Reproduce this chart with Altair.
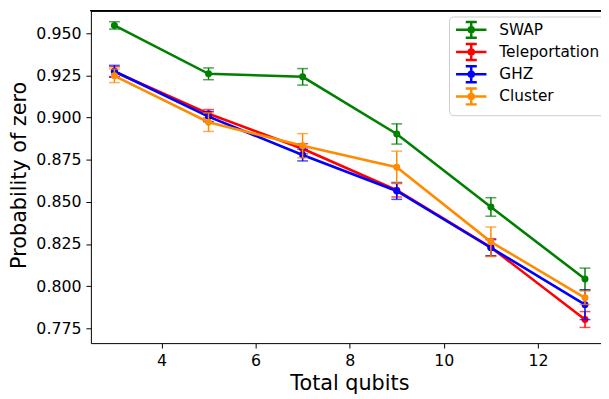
import altair as alt
import pandas as pd

qubits = [3, 5, 7, 9, 11, 13]
series_names = ["SWAP", "Teleportation", "GHZ", "Cluster"]
series_colors = ["#008000", "#ff0000", "#0000ff", "#ff8c00"]

swap_vals = [0.9547, 0.9260, 0.9242, 0.8903, 0.8470, 0.8042]
swap_errs = [0.0022, 0.0035, 0.0049, 0.0060, 0.0055, 0.0065]
tele_vals = [0.9272, 0.9023, 0.8815, 0.8569, 0.8230, 0.7802]
tele_errs = [0.0030, 0.0025, 0.0030, 0.0040, 0.0052, 0.0047]
ghz_vals = [0.9275, 0.9006, 0.8778, 0.8565, 0.8228, 0.7890]
ghz_errs = [0.0035, 0.0030, 0.0035, 0.0050, 0.0048, 0.0088]
cluster_vals = [0.9248, 0.8973, 0.8833, 0.8706, 0.8263, 0.7931]
cluster_errs = [0.0040, 0.0055, 0.0072, 0.0095, 0.0088, 0.0040]

x_ticks = [4, 6, 8, 10, 12]
y_ticks = [0.775, 0.800, 0.825, 0.850, 0.875, 0.900, 0.925, 0.950]

vals = [swap_vals, tele_vals, ghz_vals, cluster_vals]
errs = [swap_errs, tele_errs, ghz_errs, cluster_errs]

rows = []
for name, v, e in zip(series_names, vals, errs):
    for q, vv, ee in zip(qubits, v, e):
        rows.append({"series": name, "qubits": q, "p": vv, "lo": vv - ee, "hi": vv + ee})
df = pd.DataFrame(rows)

FONT = "DejaVu Sans"
W, H = 517, 337

# legend handle: line + errorbar with caps + marker (unit = 7 px)
legend_path = ("M-2.2,0H2.2M0,-1.15V1.15M-0.8,-1.15H0.8M-0.8,1.15H0.8"
               "M0.36,0A0.36,0.36,0,1,1,-0.36,0A0.36,0.36,0,1,1,0.36,0")

legend = alt.Legend(
    title=None, orient="none", legendX=363, legendY=6,
    symbolType=legend_path, symbolSize=196, symbolStrokeWidth=2.5, symbolOpacity=1,
    symbolOffset=9,
    labelFontSize=15.5, labelFont=FONT, labelColor="black", labelOffset=20,
    rowPadding=-4.5, padding=5, strokeColor="#cccccc", cornerRadius=4,
    fillColor="rgba(255,255,255,0.8)",
)
color = alt.Color("series:N", scale=alt.Scale(domain=series_names, range=series_colors), legend=legend)

xenc = alt.X("qubits:Q", scale=alt.Scale(domain=[2.5, 13.34], nice=False, zero=False),
             axis=alt.Axis(values=x_ticks, title="Total qubits", titleX=262, titleY=47,
                           titleBaseline="alphabetic"))
yenc = alt.Y("p:Q", scale=alt.Scale(domain=[0.7662, 0.9635], nice=False, zero=False),
             axis=alt.Axis(values=y_ticks, format=".3f", title="Probability of zero",
                           titleX=-66, titleY=166.5, titleBaseline="alphabetic"))

base = alt.Chart(df)
layers = []
for name in series_names:
    b = base.transform_filter(alt.datum.series == name)
    layers.append(b.mark_rule(strokeWidth=1.5).encode(x=xenc, y=alt.Y("lo:Q"), y2="hi:Q", color=color))
    layers.append(b.mark_tick(orient="horizontal", size=11, thickness=1.5).encode(x=xenc, y=alt.Y("lo:Q"), color=color))
    layers.append(b.mark_tick(orient="horizontal", size=11, thickness=1.5).encode(x=xenc, y=alt.Y("hi:Q"), color=color))
    layers.append(b.mark_line(strokeWidth=2.6).encode(x=xenc, y=yenc, color=color))
    layers.append(b.mark_circle(size=50, opacity=1).encode(x=xenc, y=yenc, color=color))

top_border = alt.Chart(df).mark_rule(color="black", strokeWidth=1).encode(
    x=alt.value(0), x2=alt.value(W), y=alt.value(0))

chart = alt.layer(*layers, top_border).properties(
    width=W, height=H,
    autosize=alt.AutoSizeParams(type="none"),
    padding={"left": 84, "top": 0, "right": 0, "bottom": 54},
).configure_view(stroke=None).configure_axis(
    grid=False, domainColor="black", tickColor="black", labelColor="black", titleColor="black",
    labelFont=FONT, titleFont=FONT, labelFontSize=16, titleFontSize=21, titleFontWeight="normal",
    tickSize=5, labelPadding=5, domainWidth=1, tickWidth=1,
)

chart.save("out.html", embed_options={"renderer": "svg", "actions": False})
